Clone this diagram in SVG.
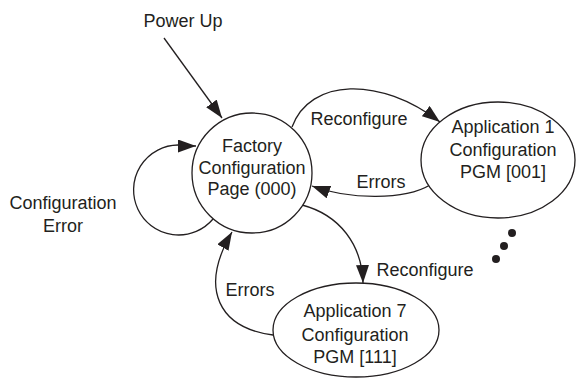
<svg xmlns="http://www.w3.org/2000/svg" width="578" height="379" viewBox="0 0 578 379">
<style>
.n{fill:#fff;stroke:#231f20;stroke-width:1.3}
.c{fill:none;stroke:#231f20;stroke-width:1.3}
text{font-family:"Liberation Sans",Arial,sans-serif;font-size:18px;fill:#231f20;text-anchor:middle}
</style>
<defs>
<marker id="ah" markerUnits="userSpaceOnUse" markerWidth="20" markerHeight="14" refX="18" refY="6.5" orient="auto">
<path d="M0,0 L18,6.5 L0,13 z" fill="#231f20"/>
</marker>
</defs>
<rect width="578" height="379" fill="#fff"/>
<g id="connectors">
<path class="c" d="M164,38 L222,118" marker-end="url(#ah)"/>
<path class="c" d="M213,219 A45,45 0 1,1 178,145 C186,145 190,146 196,146" marker-end="url(#ah)"/>
<path class="c" d="M292,127 C310,78 380,76 440,122" marker-end="url(#ah)"/>
<path class="c" d="M430,185 C405,200 350,200 312,186" marker-end="url(#ah)"/>
<path class="c" d="M302,205 C340,215 362,245 363,283" marker-end="url(#ah)"/>
<path class="c" d="M273,335 C220,328 198,290 232,232" marker-end="url(#ah)"/>
</g>
<g id="factory">
<circle class="n" cx="252" cy="173" r="60"/>
<text x="252" y="152">Factory</text>
<text x="252" y="174">Configuration</text>
<text x="252" y="195">Page (000)</text>
</g>
<g id="app1">
<ellipse class="n" cx="498" cy="160" rx="77" ry="58"/>
<text x="503" y="133">Application 1</text>
<text x="503" y="156">Configuration</text>
<text x="503" y="178">PGM [001]</text>
</g>
<g id="app7">
<ellipse class="n" cx="356" cy="330" rx="83" ry="47"/>
<text x="355" y="317">Application 7</text>
<text x="355" y="341">Configuration</text>
<text x="355" y="363">PGM [111]</text>
</g>
<g id="labels">
<text x="183" y="27">Power Up</text>
<text x="63" y="209">Configuration</text>
<text x="63" y="232">Error</text>
<text x="359" y="125">Reconfigure</text>
<text x="381" y="188">Errors</text>
<text x="425" y="276">Reconfigure</text>
<text x="250" y="296">Errors</text>
</g>
<g id="dots" fill="#231f20">
<circle cx="512" cy="233" r="4"/>
<circle cx="504" cy="246" r="4"/>
<circle cx="496" cy="259" r="4"/>
</g>
</svg>
